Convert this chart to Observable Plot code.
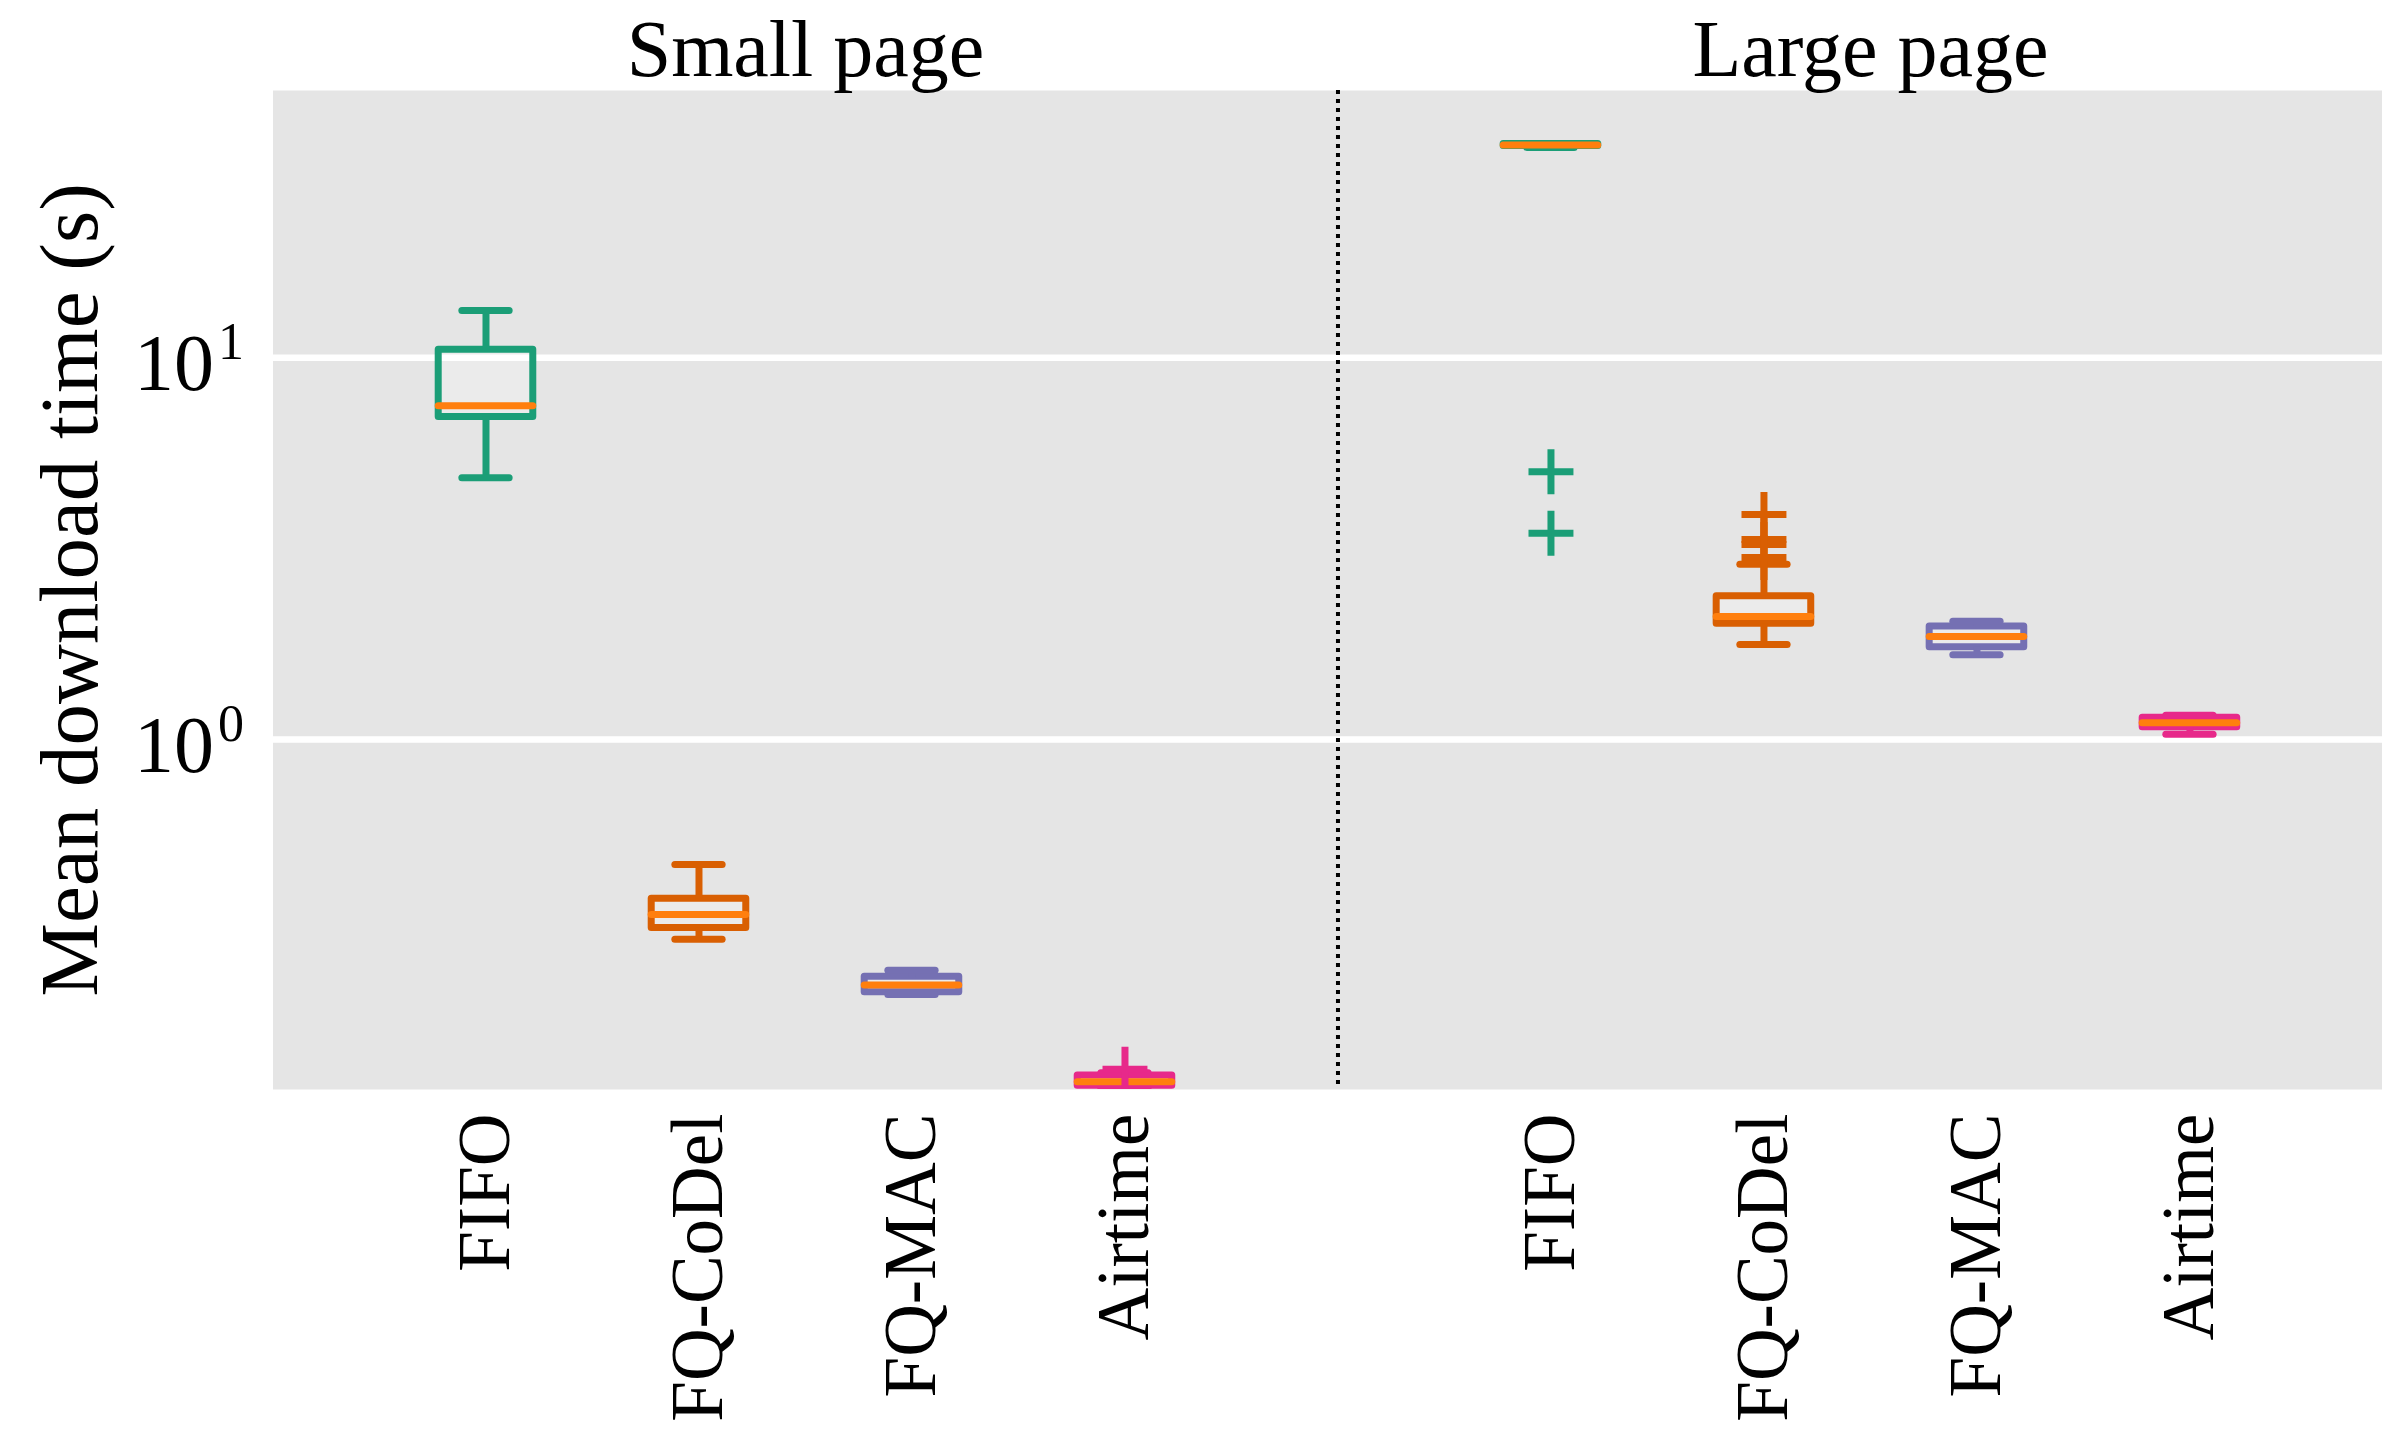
<!DOCTYPE html>
<html>
<head>
<meta charset="utf-8">
<script src="https://cdn.jsdelivr.net/npm/d3@7"></script>
<script src="https://cdn.jsdelivr.net/npm/@observablehq/plot@0.6"></script>
<style>
  html, body { margin: 0; padding: 0; background: #fff; overflow: hidden; }
</style>
</head>
<body>
<div id="chart"></div>
<script>
// Mean page download time per queueing scheme, small vs. large web page.
const schedulers = ["FIFO", "FQ-CoDel", "FQ-MAC", "Airtime"];
const pages = ["Small page", "Large page"];
const schedulerColors = ["#1b9e77", "#d95f02", "#7570b3", "#e7298a"];
const yTicks = [1, 10];

// Box statistics (seconds), one entry per scheduler.
const smallLow    = [4.85, 0.300, 0.2148, 0.1225];
const smallQ1     = [6.99, 0.321, 0.2180, 0.1240];
const smallMedian = [7.49, 0.348, 0.2277, 0.1270];
const smallQ3     = [10.5, 0.383, 0.2393, 0.1318];
const smallHigh   = [13.3, 0.471, 0.2486, 0.1341];
const smallOutliers = [[], [], [], [0.137]];

const largeLow    = [35.55, 1.774, 1.667, 1.032];
const largeQ1     = [35.85, 2.010, 1.745, 1.077];
const largeMedian = [36.05, 2.100, 1.861, 1.106];
const largeQ3     = [36.30, 2.374, 1.977, 1.140];
const largeHigh   = [36.40, 2.880, 2.041, 1.158];
const largeOutliers = [[5.03, 3.47], [3.886, 3.342, 3.243, 2.998], [], []];

// Layout of the category axis: four slots per page, one empty slot between pages.
const slotsPerPage = schedulers.length + 1;
const boxHalf = 0.222;
const capHalf = 0.111;

const statsByPage = [
  {low: smallLow, q1: smallQ1, median: smallMedian, q3: smallQ3, high: smallHigh, outliers: smallOutliers},
  {low: largeLow, q1: largeQ1, median: largeMedian, q3: largeQ3, high: largeHigh, outliers: largeOutliers}
];

const boxes = [];
const fliers = [];
statsByPage.forEach((s, p) => {
  schedulers.forEach((name, i) => {
    const pos = p * slotsPerPage + i;
    boxes.push({page: pages[p], scheduler: name, pos,
      low: s.low[i], q1: s.q1[i], median: s.median[i], q3: s.q3[i], high: s.high[i]});
    s.outliers[i].forEach(v => fliers.push({page: pages[p], scheduler: name, pos, value: v}));
  });
});

const positions = boxes.map(d => d.pos);
const nameAt = new Map(boxes.map(d => [d.pos, d.scheduler]));
const pageCenters = pages.map(pg => ({page: pg, pos: d3.mean(boxes.filter(d => d.page === pg), d => d.pos)}));
const separator = (schedulers.length - 1 + slotsPerPage) / 2;

const lw = 7;
const font = "'Liberation Serif', 'DejaVu Serif', serif";

const chart = Plot.plot({
  width: 2382,
  height: 1430,
  marginTop: 90,
  marginBottom: 341,
  marginLeft: 272.5,
  marginRight: 0,
  style: {fontFamily: font, background: "#fff", color: "#000"},
  x: {type: "linear", domain: [-1, 8.904], axis: null},
  y: {type: "log", domain: [0.1212, 50.1], axis: null},
  color: {domain: schedulers, range: schedulerColors},
  marks: [
    Plot.frame({fill: "#e5e5e5", stroke: "none"}),
    Plot.ruleY(yTicks, {stroke: "#fff", strokeWidth: 6.5}),
    Plot.ruleX([separator], {stroke: "#000", strokeWidth: 4, strokeDasharray: "4,5"}),
    // boxes
    Plot.rect(boxes, {
      x1: d => d.pos - boxHalf, x2: d => d.pos + boxHalf, y1: "q1", y2: "q3",
      stroke: "scheduler", fill: "#fff", fillOpacity: 0.25, strokeWidth: lw,
      strokeLinejoin: "round", clip: true
    }),
    // whiskers
    Plot.ruleX(boxes, {x: "pos", y1: "q3", y2: "high", stroke: "scheduler", strokeWidth: lw, clip: true}),
    Plot.ruleX(boxes, {x: "pos", y1: "q1", y2: "low", stroke: "scheduler", strokeWidth: lw, clip: true}),
    // caps
    Plot.ruleY(boxes, {y: "high", x1: d => d.pos - capHalf, x2: d => d.pos + capHalf,
      stroke: "scheduler", strokeWidth: lw, strokeLinecap: "round", clip: true}),
    Plot.ruleY(boxes, {y: "low", x1: d => d.pos - capHalf, x2: d => d.pos + capHalf,
      stroke: "scheduler", strokeWidth: lw, strokeLinecap: "round", clip: true}),
    // medians
    Plot.ruleY(boxes, {y: "median", x1: d => d.pos - boxHalf, x2: d => d.pos + boxHalf,
      stroke: "#ff7f0e", strokeWidth: lw, strokeLinecap: "round", clip: true}),
    // outliers
    Plot.dot(fliers, {x: "pos", y: "value", symbol: "plus", r: 14.5, stroke: "scheduler",
      strokeWidth: 7, clip: true}),
    // panel titles
    Plot.text(pageCenters, {x: "pos", text: "page", frameAnchor: "top", lineAnchor: "bottom",
      dy: -15, fontSize: 80, fill: "#000"}),
    // y label
    Plot.text(["Mean download time (s)"], {frameAnchor: "left", rotate: -90, lineAnchor: "bottom",
      textAnchor: "middle", dx: -176.5, fontSize: 83, fill: "#000"}),
    Plot.axisX({ticks: positions, tickFormat: p => nameAt.get(p), tickRotate: -90, tickSize: 0,
      tickPadding: 24, fontSize: 73, label: null}),
    Plot.axisY({ticks: yTicks, tickFormat: d => `10^${Math.round(Math.log10(d))}`, tickSize: 0,
      tickPadding: 29, fontSize: 80, dy: 7, label: null})
  ]
});

// Power-of-ten tick labels: raise the exponent.
d3.select(chart).selectAll("text").each(function () {
  const t = this.textContent;
  const m = /^10\^(-?\d+)$/.exec(t);
  if (!m) return;
  const sel = d3.select(this);
  sel.text("10");
  sel.append("tspan").attr("dx", 4).attr("dy", -31).attr("font-size", 52).text(m[1]);
});

document.getElementById("chart").appendChild(chart);
</script>
</body>
</html>
